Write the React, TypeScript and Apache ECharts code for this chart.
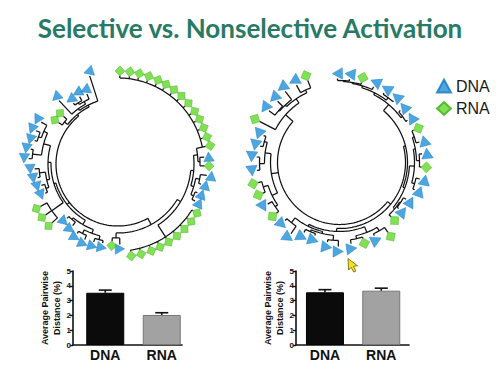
import React, { useEffect, useRef } from 'react';
import * as echarts from 'echarts';

const TITLE = 'Selective vs. Nonselective Activation';
const FONT = 'Liberation Sans, Arial, Helvetica, sans-serif';

// ---- Left tree (selective activation) ----
// leaf angle (deg, clockwise from top), marker radius (px), kind (D = DNA, R = RNA)
const selAngles = [1.2, 7.4, 13.3, 19.4, 25.5, 31.1, 37, 43, 49.2, 55.5, 61.2, 67.1, 73.1, 78.7,
  85.4, 91.3, 97.3, 103.6, 109.9, 115.6,
  121.9, 128.2, 134.4, 140.7, 147, 153.1, 159, 165.6, 171.8,
  178.7, 184.4, 191, 197.3, 203.8, 210.4, 216.3, 223.1,
  228.3, 234.9, 241.3,
  248.1, 254.4, 260.4, 266.7, 273.5, 279.7, 285.7, 292.1, 298.6,
  304.9, 311.2, 317.1, 323.8, 330.3, 336, 342.2];
const selRadii = [93, 93, 93, 93, 93, 93, 93, 93, 93, 93, 93, 93, 93, 94,
  91, 91, 94, 90, 89, 90,
  93, 93, 93, 93, 93, 93, 93, 93, 93,
  85, 82, 85, 86, 87, 85, 81, 79,
  93, 93, 93,
  83, 84, 86, 88, 94, 93, 91, 93, 92,
  77, 77, 91, 80, 82, 81, 97];
const selKinds = ['R', 'R', 'R', 'R', 'R', 'R', 'R', 'R', 'R', 'R', 'R', 'R', 'R', 'R',
  'D', 'R', 'D', 'D', 'D', 'D',
  'R', 'R', 'R', 'R', 'R', 'R', 'R', 'R', 'R',
  'D', 'R', 'D', 'D', 'D', 'D', 'D', 'D',
  'R', 'R', 'R',
  'D', 'D', 'D', 'D', 'D', 'D', 'D', 'D', 'D',
  'R', 'R', 'D', 'D', 'D', 'D', 'D'];
// clusters: [first leaf, last leaf (1-based), branch radius, attach fraction]
const selClusters = [
  [1, 14, 86, 1], [15, 16, 82], [1, 16, 80], [17, 18, 83], [19, 20, 82], [17, 20, 79], [1, 20, 76],
  [21, 29, 87], [1, 29, 73], [30, 31, 74], [1, 31, 69],
  [32, 33, 78], [34, 35, 78], [32, 35, 74], [36, 37, 72], [32, 37, 70],
  [38, 40, 81], [41, 42, 76], [43, 44, 79], [41, 44, 73], [45, 46, 86], [47, 48, 84], [47, 49, 81],
  [45, 49, 77], [41, 49, 70], [38, 49, 67], [32, 49, 65],
  [50, 51, 68], [53, 54, 73], [53, 55, 71], [52, 55, 68], [52, 56, 66], [50, 56, 64],
  [1, 56, 62]];

// ---- Right tree (nonselective activation) ----
const nonAngles = [-1.4, 6.8, 15.4, 24.2, 32.6, 41.2, 49.5, 58.2, 66.5, 75.6, 84, 93.2, 101.6, 109.9,
  118.9, 127.9, 136.5, 145.3, 154.5, 162.9, 171.9, 180.8, 188.6, 198.7, 206.9, 214.3, 223.1,
  231.2, 239.9, 248.2, 256.2, 264.5, 273.8, 281.7, 289.5, 297.2, 306.3, 314.7, 322.7, 330.9, 338.9];
const nonRadii = [89, 89, 88, 88, 87.5, 87, 85, 85, 86, 87.5, 88, 87, 87, 85,
  81, 80, 80, 90, 86, 84.5, 87, 89, 85.5, 82, 83.5, 91, 84.5,
  86, 88, 87.5, 89, 88, 88, 86, 85.5, 95, 92.5, 92, 94.5, 93.5, 93];
const nonKinds = ['D', 'D', 'R', 'D', 'D', 'D', 'D', 'D', 'R', 'D', 'D', 'R', 'D', 'D',
  'D', 'D', 'R', 'R', 'D', 'R', 'D', 'D', 'D', 'D', 'D', 'D', 'D',
  'R', 'D', 'R', 'R', 'D', 'D', 'D', 'D', 'R', 'D', 'D', 'D', 'D', 'R'];
const nonClusters = [
  [1, 2, 82], [1, 3, 81], [1, 4, 80], [5, 6, 81], [1, 6, 78], [7, 8, 78], [1, 8, 76],
  [9, 10, 79], [11, 12, 80], [9, 12, 77], [13, 14, 78], [9, 14, 75], [15, 16, 73], [15, 17, 72],
  [9, 17, 70], [1, 17, 68],
  [18, 19, 79], [20, 21, 78], [18, 21, 75], [22, 23, 78], [24, 25, 75], [22, 25, 73], [26, 27, 77],
  [22, 27, 71], [18, 27, 69], [1, 27, 66],
  [28, 29, 78], [30, 31, 80], [28, 31, 75], [32, 33, 80], [34, 35, 78], [32, 35, 75], [28, 35, 69],
  [37, 38, 80], [37, 39, 79], [40, 41, 80], [37, 41, 77], [36, 41, 72],
  [1, 41, 62]];

// ---- Bar charts ----
const barCategories = ['DNA', 'RNA'];
const selMeans = [3.53, 2.03];
const selErrors = [0.18, 0.15];
const nonMeans = [3.56, 3.67];
const nonErrors = [0.18, 0.17];

const BLUE = '#1f90da';
const GREEN = '#62d82a';

function buildSegments(angles: number[], radii: number[], clusters: number[][], tipGap: number) {
  const order = clusters.map((_, i) => i).sort(
    (a, b) => (clusters[a][1] - clusters[a][0]) - (clusters[b][1] - clusters[b][0]));
  const done: number[] = [];
  const nodeAngle: number[] = [];
  const segs: number[][] = [];
  for (const ci of order) {
    const c = clusters[ci];
    const s = c[0] - 1, e = c[1] - 1, r = c[2], att = c[3];
    const kids: number[][] = [];
    let i = s;
    while (i <= e) {
      let best = -1;
      for (const d of done) {
        const ds = clusters[d][0] - 1, de = clusters[d][1] - 1;
        if (ds === i && de <= e && (best < 0 || de > clusters[best][1] - 1)) best = d;
      }
      if (best >= 0) {
        kids.push([nodeAngle[best], clusters[best][2]]);
        i = clusters[best][1];
      } else {
        kids.push([angles[i], radii[i] - tipGap]);
        i++;
      }
    }
    const as = kids.map((k) => k[0]);
    const lo = Math.min(...as), hi = Math.max(...as);
    segs.push([r, lo, r, hi]);
    for (const k of kids) segs.push([r, k[0], k[1], k[0]]);
    nodeAngle[ci] = att === undefined ? (lo + hi) / 2 : lo + att * (hi - lo);
    done.push(ci);
  }
  return segs;
}

const treeRender = (_params: any, api: any) => {
  const r1 = api.value(0), a1 = api.value(1), r2 = api.value(2), a2 = api.value(3);
  const pts: number[][] = [];
  if (a1 !== a2) {
    const steps = Math.max(2, Math.ceil(Math.abs(a2 - a1) / 1.5) + 1);
    for (let k = 0; k < steps; k++) pts.push(api.coord([r1, a1 + (a2 - a1) * k / (steps - 1)]));
  } else {
    pts.push(api.coord([r1, a1]), api.coord([r2, a2]));
  }
  return { type: 'polyline', shape: { points: pts }, style: { stroke: '#121212', lineWidth: 1.25, fill: null } };
};

const errRender = (_params: any, api: any) => {
  const x = api.value(0), m = api.value(1), e = api.value(2);
  const b = api.coord([x, m]);
  const t = api.coord([x, m + e]);
  const st = { stroke: '#111', lineWidth: 1.6 };
  return {
    type: 'group',
    children: [
      { type: 'line', shape: { x1: b[0], y1: b[1], x2: t[0], y2: t[1] }, style: st },
      { type: 'line', shape: { x1: t[0] - 6.5, y1: t[1], x2: t[0] + 6.5, y2: t[1] }, style: st },
    ],
  };
};

function leafSeries(polarIndex: number, angles: number[], radii: number[], kinds: string[], kind: string, size: number) {
  const isDNA = kind === 'D';
  return {
    type: 'scatter',
    name: isDNA ? 'DNA' : 'RNA',
    coordinateSystem: 'polar',
    polarIndex,
    symbol: isDNA ? 'triangle' : 'diamond',
    symbolSize: isDNA ? [size, size * 0.9] : size,
    symbolRotate: (v: number[]) => 90 - v[1],
    itemStyle: isDNA
      ? { color: BLUE, borderColor: '#1778bd', borderWidth: 0.5 }
      : { color: GREEN, borderColor: '#3fae1a', borderWidth: 0.5 },
    data: angles.map((a, i) => [radii[i], a]).filter((_, i) => kinds[i] === kind),
    silent: true,
    z: 4,
  };
}

const barItemStyles = [
  { color: '#0b0b0b', borderColor: '#000', borderWidth: 1 },
  { color: '#a2a2a2', borderColor: '#777', borderWidth: 1 },
];

function axesPair(gridIndex: number) {
  return {
    x: {
      gridIndex, type: 'value', min: 0, max: 1,
      axisLine: { show: true, lineStyle: { color: '#111', width: 1.6 } },
      axisTick: { show: false }, axisLabel: { show: false }, splitLine: { show: false },
    },
    y: {
      gridIndex, type: 'value', min: 0, max: 5, interval: 1,
      axisLine: { show: true, lineStyle: { color: '#111', width: 1.6 } },
      axisTick: { show: true, length: 3, lineStyle: { color: '#111', width: 1.4 } },
      axisLabel: { fontSize: 8, fontWeight: 'bold', color: '#111', margin: 2, fontFamily: FONT },
      splitLine: { show: false },
      name: 'Average Pairwise\nDistance (%)', nameLocation: 'middle', nameGap: 10,
      nameTextStyle: { fontSize: 9, fontWeight: 'bold', color: '#111', lineHeight: 11.5, fontFamily: FONT },
    },
  };
}

function barAxesPair(gridIndex: number) {
  return {
    x: {
      gridIndex, type: 'category', data: barCategories,
      axisLine: { show: false }, axisTick: { show: false },
      axisLabel: { fontSize: 14, fontWeight: 'bold', color: '#111', margin: 3, fontFamily: FONT },
    },
    y: { gridIndex, type: 'value', min: 0, max: 5, show: false },
  };
}

export default function App() {
  const ref = useRef<HTMLDivElement>(null);
  useEffect(() => {
    if (!ref.current) return;
    const chart = echarts.init(ref.current, null, { renderer: 'svg' });
    const selSegs = buildSegments(selAngles, selRadii, selClusters, 4.5);
    const nonSegs = buildSegments(nonAngles, nonRadii, nonClusters, 5);
    const a0 = axesPair(0), b1 = barAxesPair(1), a2 = axesPair(2), b3 = barAxesPair(3);
    const option: any = {
      animation: false,
      backgroundColor: '#ffffff',
      title: {
        text: TITLE, left: 'center', top: 10,
        textStyle: { fontFamily: 'Lato', fontWeight: 'bold', fontSize: 26, color: '#287a65' },
      },
      legend: {
        orient: 'vertical', left: 436, top: 78, padding: 0,
        itemWidth: 14, itemHeight: 13, itemGap: 6.5, symbolRotate: 0,
        textStyle: { fontSize: 16, color: '#1a1a1a', fontFamily: FONT },
        data: [{ name: 'DNA', icon: 'triangle' }, { name: 'RNA', icon: 'diamond' }],
      },
      polar: [
        { center: [118, 164], radius: 100 },
        { center: [339.5, 162.5], radius: 100 },
      ],
      angleAxis: [0, 1].map((i) => ({
        polarIndex: i, type: 'value', min: -10, max: 350, startAngle: 100, clockwise: true, show: false,
      })),
      radiusAxis: [0, 1].map((i) => ({ polarIndex: i, type: 'value', min: 0, max: 100, show: false })),
      grid: [
        { left: 73, top: 271, width: 109, height: 74 },
        { left: 77, top: 271, width: 113, height: 74 },
        { left: 296, top: 271, width: 113, height: 74 },
        { left: 296.8, top: 271, width: 112.6, height: 74 },
      ],
      xAxis: [a0.x, b1.x, a2.x, b3.x],
      yAxis: [a0.y, b1.y, a2.y, b3.y],
      graphic: [
        {
          type: 'polygon', z: 100,
          shape: { points: [[348, 258.5], [348.6, 270], [351.2, 267.4], [353.7, 272], [355.9, 271], [353.5, 266.3], [357.6, 265.8]] },
          style: { fill: '#f2e21e', stroke: '#6e5f00', lineWidth: 0.8 },
        },
      ],
      series: [
        { type: 'custom', coordinateSystem: 'polar', polarIndex: 0, data: selSegs, renderItem: treeRender, silent: true, z: 1 },
        { type: 'custom', coordinateSystem: 'polar', polarIndex: 1, data: nonSegs, renderItem: treeRender, silent: true, z: 1 },
        leafSeries(0, selAngles, selRadii, selKinds, 'D', 10.5),
        leafSeries(0, selAngles, selRadii, selKinds, 'R', 10),
        leafSeries(1, nonAngles, nonRadii, nonKinds, 'D', 11.5),
        leafSeries(1, nonAngles, nonRadii, nonKinds, 'R', 11),
        {
          type: 'bar', xAxisIndex: 1, yAxisIndex: 1, barWidth: 38, silent: true, z: 2,
          data: selMeans.map((v, i) => ({ value: v, itemStyle: barItemStyles[i] })),
        },
        {
          type: 'custom', xAxisIndex: 1, yAxisIndex: 1, silent: true, z: 3,
          data: selMeans.map((v, i) => [i, v, selErrors[i]]), renderItem: errRender,
        },
        {
          type: 'bar', xAxisIndex: 3, yAxisIndex: 3, barWidth: 38, silent: true, z: 2,
          data: nonMeans.map((v, i) => ({ value: v, itemStyle: barItemStyles[i] })),
        },
        {
          type: 'custom', xAxisIndex: 3, yAxisIndex: 3, silent: true, z: 3,
          data: nonMeans.map((v, i) => [i, v, nonErrors[i]]), renderItem: errRender,
        },
      ],
    };
    chart.setOption(option);
    return () => chart.dispose();
  }, []);
  return (
    <div
      ref={ref}
      style={{ position: 'absolute', left: 0, top: 0, width: 500, height: 370, background: '#fff' }}
    />
  );
}
